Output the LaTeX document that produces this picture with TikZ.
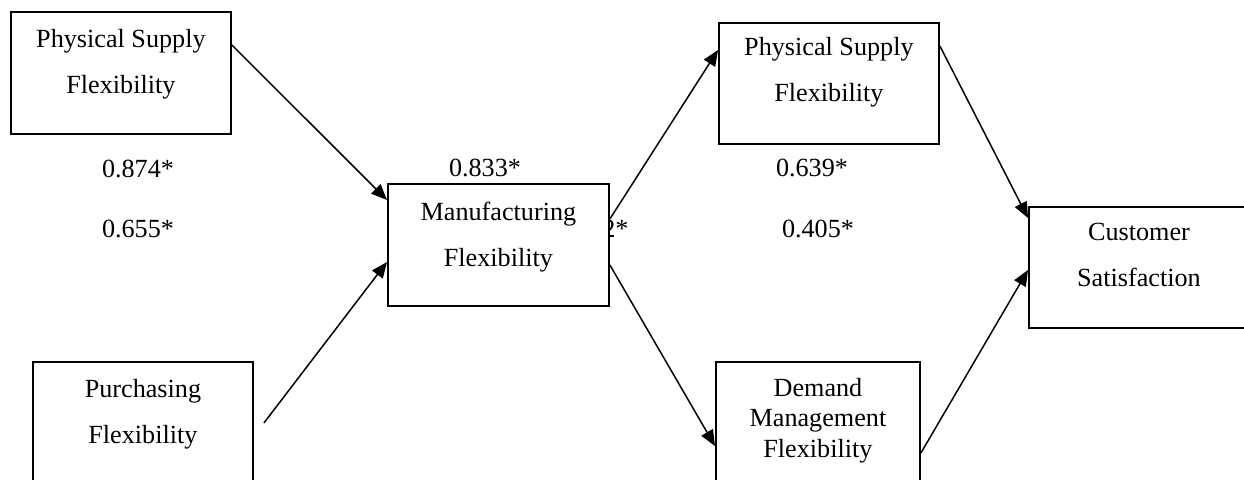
\documentclass[tikz,border=0pt]{standalone}
\usepackage{fontspec}
\setmainfont{Liberation Serif}
\usetikzlibrary{arrows.meta,calc}
\tikzset{
  factorbox/.style={
    rectangle, draw=black, fill=white, line width=1.1pt,
    anchor=north west, minimum width=#1, minimum height=2.44cm,
    inner sep=0pt
  },
  factorbox/.default=4.4cm,
  boxtext/.style={
    anchor=north, inner sep=0pt, align=center,
    font=\fontsize{14.9}{17.3}\selectfont
  },
  pathlabel/.style={
    anchor=base, inner sep=0pt,
    font=\fontsize{14.9}{17.3}\selectfont
  },
  patharrow/.style={
    -{Triangle[length=9pt, width=7.5pt]}, line width=0.85pt
  },
}

\begin{document}
\begin{tikzpicture}[x=0.02cm, y=-0.02cm]
  \path[use as bounding box, clip] (0,0) rectangle (1244,480);

  % ── coefficient partly under the manufacturing box ──
  \node[pathlabel, anchor=base west] (lblmp) at (602,237) {2*};

  % ── factor boxes ──
  \node[factorbox] (psfL) at (10,11) {};
  \node[factorbox] (purch) at (32,361) {};
  \node[factorbox=4.42cm] (manuf) at (387,183) {};
  \node[factorbox, minimum height=2.42cm] (psfR) at (718,22) {};
  \node[factorbox=4.08cm] (demand) at (715,361) {};
  \node[factorbox, minimum height=2.42cm] (cust) at (1028,206) {};

  \node[boxtext] (psfLt) at ($(psfL.north)+(0,18)$) {Physical Supply\\[8.8pt]Flexibility};
  \node[boxtext] (purcht) at ($(purch.north)+(0,18)$) {Purchasing\\[8.8pt]Flexibility};
  \node[boxtext] (manuft) at ($(manuf.north)+(0,19)$) {Manufacturing\\[8.8pt]Flexibility};
  \node[boxtext] (psfRt) at ($(psfR.north)+(0,15)$) {Physical Supply\\[8.8pt]Flexibility};
  \node[boxtext] (demandt) at ($(demand.north)+(0,17)$) {Demand\\Management\\Flexibility};
  \node[boxtext] (custt) at ($(cust.north)+(0,17)$) {Customer\\[8.8pt]Satisfaction};

  % ── path coefficients ──
  \node[pathlabel] (lblpsf) at (138,177) {0.874*};
  \node[pathlabel] (lblpur) at (138,237) {0.655*};
  \node[pathlabel] (lblman) at (485,176) {0.833*};
  \node[pathlabel] (lblpsr) at (812,176) {0.639*};
  \node[pathlabel] (lbldem) at (818,237) {0.405*};

  % ── paths ──
  \coordinate (purchout) at ($(purch.north east)+(10,62)$);
  \draw[patharrow] ($(psfL.north east)+(0,34)$) -- ($(manuf.north west)+(0,17)$);
  \draw[patharrow] (purchout) -- ($(manuf.north west)+(0,79)$);
  \draw[patharrow] ($(manuf.north east)+(0,36)$) -- ($(psfR.north west)+(0,28)$);
  \draw[patharrow] ($(manuf.north east)+(0,82)$) -- ($(demand.north west)+(0,85)$);
  \draw[patharrow] ($(psfR.north east)+(0,24)$) -- ($(cust.north west)+(0,12)$);
  \draw[patharrow] ($(demand.north east)+(0,92)$) -- ($(cust.north west)+(0,64)$);
\end{tikzpicture}
\end{document}
